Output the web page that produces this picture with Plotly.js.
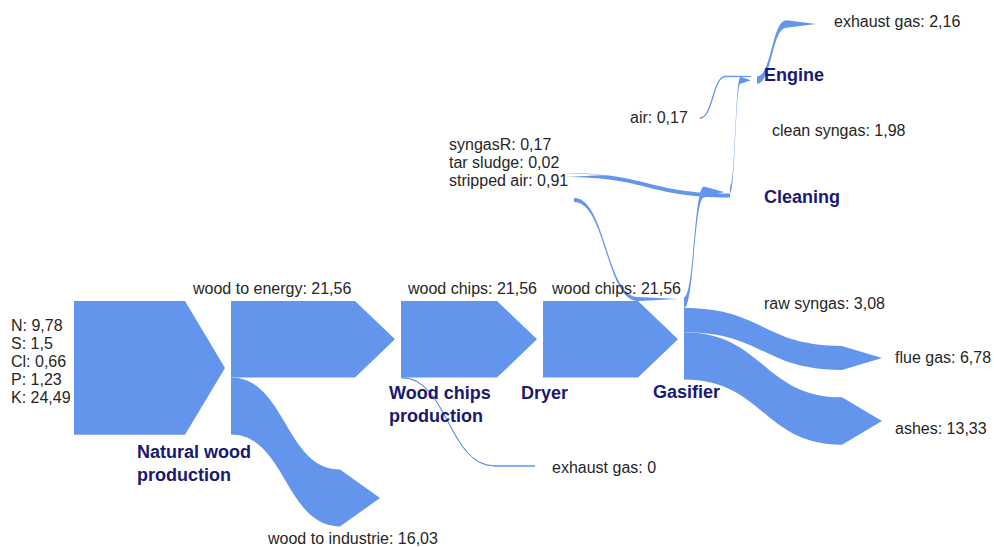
<!DOCTYPE html>
<html><head><meta charset="utf-8">
<script src="https://cdn.plot.ly/plotly-3.0.1.min.js"></script>
<style>html,body{margin:0;padding:0;background:#fff}#chart{width:994px;height:547px}</style>
</head><body><div id="chart"></div>
<script>
function sum(a) { return a.reduce(function (s, v) { return s + v; }, 0); }
function fmt(v) { return String(Math.round(v * 100) / 100).replace('.', ','); }

// ---------------- data ----------------
const inputNames = ['N', 'S', 'Cl', 'P', 'K'];
const inputValues = [9.78, 1.5, 0.66, 1.23, 24.49];
const recycleNames = ['syngasR', 'tar sludge', 'stripped air'];
const recycleValues = [0.17, 0.02, 0.91];
const nodeNames = ['inputs', 'Natural wood production', 'Wood chips production', 'wood to industrie',
  'Dryer', 'exhaust gas', 'Gasifier', 'Cleaning', 'flue gas', 'ashes', 'Engine', 'exhaust gas',
  'air', 'recycle', 'recycle'];
const flowNames = ['inputs', 'wood to energy', 'wood to industrie', 'wood chips', 'exhaust gas',
  'wood chips', 'raw syngas', 'flue gas', 'ashes', 'clean syngas', 'exhaust gas', 'air',
  'recycle', 'recycle'];
const flowSource = [0, 1, 1, 2, 2, 4, 6, 6, 6, 7, 10, 12, 7, 14];
const flowTarget = [1, 2, 3, 4, 5, 6, 7, 8, 9, 10, 11, 10, 13, 6];
const flowValues = [sum(inputValues), 21.56, 16.03, 21.56, 0, 21.56, 3.08, 6.78, 13.33, 1.98,
  2.16, 0.17, sum(recycleValues), sum(recycleValues)];

// ---------------- layout (pixel positions / styles) ----------------
const W = 994, H = 547, T = 60, B = 480, HS = B - T;
const nodeCx = [71, 228, 398, 383, 540, 538, 681, 727, 885, 885, 754, 819, 697, 608, 571];
const nodeCy = [367.9, 367.9, 339.3, 498, 339.3, 466, 338.3, 192, 358, 421, 80, 24, 118, 175, 200];

const BLUE = '#6495ED';

const trace = {
  type: 'sankey',
  orientation: 'h',
  arrangement: 'fixed',
  domain: { x: [0, 1], y: [1 - B / H, 1 - T / H] },
  hoverinfo: 'none',
  node: {
    label: nodeNames.map(function () { return ''; }),
    x: nodeCx.map(function (v) { return v / W; }),
    y: nodeCy.map(function (v) { return (v - T) / HS; }),
    pad: 56,
    thickness: 6,
    align: 'justify',
    color: 'rgba(0,0,0,0)',
    line: { width: 0 },
    hoverinfo: 'none'
  },
  link: {
    source: flowSource,
    target: flowTarget,
    value: flowValues.map(function (v) { return Math.max(v, 0.01); }),
    color: BLUE,
    arrowlen: 40,
    hoverinfo: 'none'
  }
};

const FONT = 'Liberation Sans, Arial, sans-serif';
function ann(text, x, y, bold) {
  return {
    xref: 'paper', yref: 'paper', x: x / W, y: 1 - y / H,
    xanchor: 'left', yanchor: 'middle', align: 'left', showarrow: false,
    text: bold ? '<b>' + text + '</b>' : text,
    font: bold ? { family: FONT, size: 18, color: '#191970' } : { family: FONT, size: 16, color: '#262626' }
  };
}

const annotations = [];
// node labels
const nodeLabelPos = { 1: [135, 463], 2: [387, 404], 4: [519, 393], 6: [651, 392], 7: [762, 197], 10: [762, 75] };
Object.keys(nodeLabelPos).forEach(function (k) {
  const p = nodeLabelPos[k];
  annotations.push(ann(nodeNames[k].replace(' production', '<br>production'), p[0], p[1], true));
});
// flow labels
const flowLabelPos = { 1: [190, 288], 2: [265, 538], 3: [405, 288], 4: [550, 467], 5: [549, 288],
  6: [762, 303], 7: [893, 357], 8: [893, 428], 9: [770, 130], 10: [832, 21], 11: [628, 117] };
Object.keys(flowLabelPos).forEach(function (k) {
  const p = flowLabelPos[k];
  annotations.push(ann(flowNames[k] + ': ' + fmt(flowValues[k]), p[0], p[1], false));
});
inputNames.forEach(function (n, i) {
  annotations.push(ann(n + ': ' + fmt(inputValues[i]), 9, 325 + 18.2 * i, false));
});
recycleNames.forEach(function (n, i) {
  annotations.push(ann(n + ': ' + fmt(recycleValues[i]), 447, 144 + 18 * i, false));
});

Plotly.newPlot('chart', [trace], {
  width: W, height: H,
  margin: { l: 0, r: 0, t: 0, b: 0 },
  paper_bgcolor: '#fff', plot_bgcolor: '#fff',
  showlegend: false,
  annotations: annotations
}, { displayModeBar: false, staticPlot: true });
</script>
</body></html>
